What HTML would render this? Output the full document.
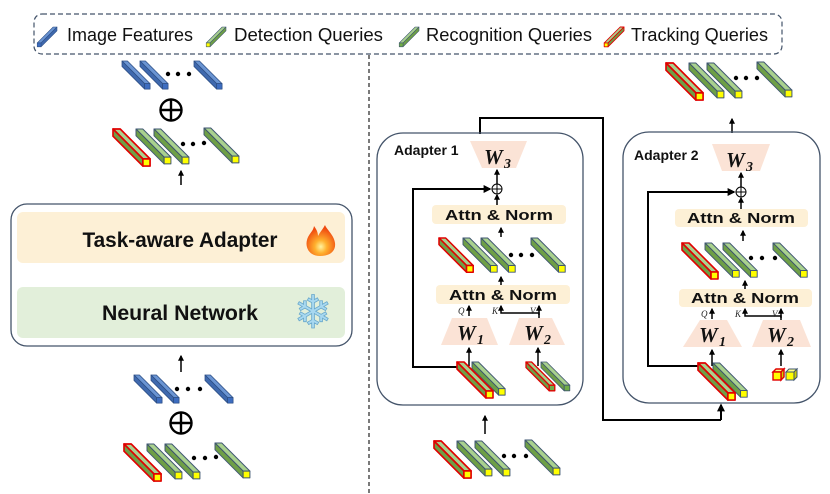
<!DOCTYPE html>
<html><head><meta charset="utf-8"><style>
html,body{margin:0;padding:0;background:#fff;}
svg{display:block;}
.lg{font-family:"Liberation Sans",sans-serif;font-size:18px;fill:#111;}
.b{font-family:"Liberation Sans",sans-serif;font-weight:bold;fill:#111;}
.w{font-family:"Liberation Serif",serif;font-weight:bold;font-style:italic;fill:#111;}
.s{font-family:"Liberation Serif",serif;font-style:italic;font-size:9px;fill:#222;}
</style></head><body>
<svg width="830" height="494" viewBox="0 0 830 494" xmlns="http://www.w3.org/2000/svg">
<defs>
<marker id="ah" viewBox="0 0 10 10" refX="8" refY="5" markerWidth="4" markerHeight="4" orient="auto"><path d="M0,0L10,5L0,10z" fill="#000"/></marker>
<g id="blue" stroke="#2d4f86" stroke-width="1" stroke-linejoin="round">
<polygon points="0,0 7,0 36,29 29,29" fill="#6a94d2"/>
<polygon points="0,0 29,29 29,36 0,7" fill="#3f69ae"/>
<rect x="29" y="29" width="7" height="7" fill="#3d6dc0"/>
</g>
<g id="green" stroke="#3e5570" stroke-width="1" stroke-linejoin="round">
<polygon points="0,0 7,0 36,29 29,29" fill="#a9d18e"/>
<polygon points="0,0 29,29 29,36 0,7" fill="#6e9f46"/>
<rect x="29" y="29" width="7" height="7" fill="#ffff00"/>
</g>
<g id="gcap" stroke="#3e5570" stroke-width="1" stroke-linejoin="round">
<polygon points="0,0 7,0 36,29 29,29" fill="#a9d18e"/>
<polygon points="0,0 29,29 29,36 0,7" fill="#6e9f46"/>
<rect x="29" y="29" width="7" height="7" fill="#70ad47"/>
</g>
<g id="red" stroke="#e00000" stroke-width="1.6" stroke-linejoin="round">
<polygon points="0,0 7,0 36,29 29,29" fill="#a9d18e"/>
<polygon points="0,0 29,29 29,36 0,7" fill="#6e9f46"/>
<rect x="29" y="29" width="7" height="7" fill="#ffff00"/>
</g>
<g id="redg" stroke="#e00000" stroke-width="1.6" stroke-linejoin="round">
<polygon points="0,0 7,0 36,29 29,29" fill="#a9d18e"/>
<polygon points="0,0 29,29 29,36 0,7" fill="#6e9f46"/>
<rect x="29" y="29" width="7" height="7" fill="#70ad47"/>
</g>
<g id="ycube" stroke="#3e5570" stroke-width="1"><polygon points="0,3 3,0 11,0 8,3" fill="#ffff80"/><polygon points="8,3 11,0 11,8 8,11" fill="#d0d000"/><rect x="0" y="3" width="8" height="8" fill="#ffff00"/></g>
<g id="rcube" stroke="#e00000" stroke-width="1.4"><polygon points="0,3 3,0 11,0 8,3" fill="#ffff80"/><polygon points="8,3 11,0 11,8 8,11" fill="#d0d000"/><rect x="0" y="3" width="8" height="8" fill="#ffff00"/></g>
<radialGradient id="fire" cx="0.5" cy="0.7" r="0.6"><stop offset="0" stop-color="#fff3a0"/><stop offset="0.35" stop-color="#ffb02e"/><stop offset="1" stop-color="#f04a10"/></radialGradient>
</defs>

<!-- legend -->
<rect x="34" y="14" width="748" height="40" rx="8" fill="none" stroke="#44546a" stroke-width="1.2" stroke-dasharray="5,3"/>
<use href="#blue" transform="translate(57,27) scale(-0.55,0.55)"/>
<text class="lg" x="67" y="41" textLength="126" lengthAdjust="spacingAndGlyphs">Image Features</text>
<use href="#green" transform="translate(226,27) scale(-0.55,0.55)"/>
<text class="lg" x="234" y="41" textLength="149" lengthAdjust="spacingAndGlyphs">Detection Queries</text>
<use href="#gcap" transform="translate(419,27) scale(-0.55,0.55)"/>
<text class="lg" x="426" y="41" textLength="166" lengthAdjust="spacingAndGlyphs">Recognition Queries</text>
<use href="#red" transform="translate(624,27) scale(-0.55,0.55)"/>
<text class="lg" x="631" y="41" textLength="137" lengthAdjust="spacingAndGlyphs">Tracking Queries</text>

<line x1="369" y1="55" x2="369" y2="494" stroke="#222" stroke-width="1.2" stroke-dasharray="4,3"/>

<!-- left top -->
<use href="#blue" transform="translate(122,61) scale(0.78)"/>
<use href="#blue" transform="translate(140,61) scale(0.78)"/>
<use href="#blue" transform="translate(194,61) scale(0.78)"/>
<g fill="#000"><circle cx="168" cy="74" r="2.2"/><circle cx="178" cy="74" r="2.2"/><circle cx="189" cy="74" r="2.2"/></g>
<circle cx="171" cy="110" r="10.5" fill="none" stroke="#000" stroke-width="2.4"/>
<line x1="160.5" y1="110" x2="181.5" y2="110" stroke="#000" stroke-width="2.4"/><line x1="171" y1="99.5" x2="171" y2="120.5" stroke="#000" stroke-width="2.4"/>
<use href="#red" transform="translate(113,129) scale(1.03)"/>
<use href="#green" transform="translate(136,129) scale(0.97)"/>
<use href="#green" transform="translate(154,129) scale(0.97)"/>
<use href="#green" transform="translate(204,128) scale(0.97)"/>
<g fill="#000"><circle cx="183" cy="144" r="2.2"/><circle cx="193" cy="144" r="2.2"/><circle cx="204" cy="143" r="2.2"/></g>
<line x1="181" y1="185" x2="181" y2="171" stroke="#000" stroke-width="1.5" marker-end="url(#ah)"/>

<!-- left box -->
<rect x="11" y="204" width="341" height="142" rx="16" fill="#fff" stroke="#44546a" stroke-width="1.3"/>
<rect x="17" y="212" width="328" height="51" rx="6" fill="#fdf0d6"/>
<text class="b" x="180" y="247" font-size="21" text-anchor="middle" textLength="195" lengthAdjust="spacingAndGlyphs">Task-aware Adapter</text>
<path d="M320,256 C309,256 305,247 307,240 C309,233 313,232 314,226 C317,230 318,233 318,236 C320,232 323,229 325,225 C327,230 334,235 335,243 C336,251 330,256 320,256z" fill="url(#fire)"/>
<rect x="17" y="287" width="328" height="51" rx="6" fill="#e2efda"/>
<text class="b" x="180" y="320" font-size="21" text-anchor="middle" textLength="156" lengthAdjust="spacingAndGlyphs">Neural Network</text>
<text x="313" y="328" font-family="DejaVu Sans,sans-serif" font-size="46" fill="#a8d8f0" stroke="#6aa9cc" stroke-width="0.8" text-anchor="middle">❄</text>

<line x1="181" y1="372" x2="181" y2="356" stroke="#000" stroke-width="1.5" marker-end="url(#ah)"/>
<use href="#blue" transform="translate(134,375) scale(0.78)"/>
<use href="#blue" transform="translate(151,375) scale(0.78)"/>
<use href="#blue" transform="translate(205,375) scale(0.78)"/>
<g fill="#000"><circle cx="177" cy="389" r="2.2"/><circle cx="188" cy="389" r="2.2"/><circle cx="200" cy="389" r="2.2"/></g>
<circle cx="181" cy="423" r="10.5" fill="none" stroke="#000" stroke-width="2.4"/>
<line x1="170.5" y1="423" x2="191.5" y2="423" stroke="#000" stroke-width="2.4"/><line x1="181" y1="412.5" x2="181" y2="433.5" stroke="#000" stroke-width="2.4"/>
<use href="#red" transform="translate(124,444) scale(1.03)"/>
<use href="#green" transform="translate(147,444) scale(0.97)"/>
<use href="#green" transform="translate(165,444) scale(0.97)"/>
<use href="#green" transform="translate(215,443) scale(0.97)"/>
<g fill="#000"><circle cx="194" cy="458" r="2.2"/><circle cx="205" cy="458" r="2.2"/><circle cx="216" cy="457" r="2.2"/></g>

<!-- right top output -->
<use href="#red" transform="translate(666,63) scale(1.03)"/>
<use href="#green" transform="translate(689,63) scale(0.97)"/>
<use href="#green" transform="translate(707,63) scale(0.97)"/>
<use href="#green" transform="translate(757,62) scale(0.97)"/>
<g fill="#000"><circle cx="736" cy="78" r="2.2"/><circle cx="746" cy="78" r="2.2"/><circle cx="757" cy="78" r="2.2"/></g>
<line x1="732" y1="133" x2="732" y2="119" stroke="#000" stroke-width="1.5" marker-end="url(#ah)"/>

<!-- connection line -->
<polyline points="480,134 480,118 603,118 603,420 721,420" fill="none" stroke="#000" stroke-width="2"/>
<line x1="721" y1="420" x2="721" y2="405" stroke="#000" stroke-width="2" marker-end="url(#ah)"/>

<!-- Adapter 1 -->
<rect x="377" y="133" width="206" height="272" rx="26" fill="none" stroke="#44546a" stroke-width="1.3"/>
<text class="b" x="394" y="155" font-size="14">Adapter 1</text>
<polygon points="470,141 527,141 516,168 482,168" fill="#fbe3d6"/>
<text class="w" x="484" y="164" font-size="21">W</text><text class="w" x="504" y="168" font-size="14">3</text>
<line x1="497" y1="184" x2="497" y2="170" stroke="#000" stroke-width="1.5" marker-end="url(#ah)"/>
<circle cx="497" cy="189" r="5" fill="none" stroke="#000" stroke-width="1"/><line x1="492" y1="189" x2="502" y2="189" stroke="#000"/><line x1="497" y1="184" x2="497" y2="194" stroke="#000"/>
<polyline points="457,367 413,367 413,189 490,189" fill="none" stroke="#000" stroke-width="2" marker-end="url(#ah)"/>
<line x1="497" y1="205" x2="497" y2="195" stroke="#000" stroke-width="1.5" marker-end="url(#ah)"/>
<rect x="432" y="205" width="134" height="19" rx="4" fill="#fdf0d6"/>
<text class="b" x="499" y="220" font-size="15" text-anchor="middle" textLength="108" lengthAdjust="spacingAndGlyphs">Attn &amp; Norm</text>
<line x1="501" y1="237" x2="501" y2="228" stroke="#000" stroke-width="1.5" marker-end="url(#ah)"/>
<use href="#red" transform="translate(439,238) scale(0.95)"/>
<use href="#green" transform="translate(463,238) scale(0.95)"/>
<use href="#green" transform="translate(481,238) scale(0.95)"/>
<use href="#green" transform="translate(531,238) scale(0.95)"/>
<g fill="#000"><circle cx="511" cy="255" r="2.2"/><circle cx="521" cy="255" r="2.2"/><circle cx="532" cy="255" r="2.2"/></g>
<line x1="501" y1="285" x2="501" y2="277" stroke="#000" stroke-width="1.5" marker-end="url(#ah)"/>
<rect x="436" y="285" width="134" height="19" rx="4" fill="#fdf0d6"/>
<text class="b" x="503" y="300" font-size="15" text-anchor="middle" textLength="108" lengthAdjust="spacingAndGlyphs">Attn &amp; Norm</text>
<line x1="469" y1="316" x2="469" y2="306" stroke="#000" stroke-width="1.5" marker-end="url(#ah)"/>
<text class="s" x="458" y="314">Q</text>
<polyline points="539,320 539,313 501,313 501,306" fill="none" stroke="#000" stroke-width="1.5" marker-end="url(#ah)"/>
<line x1="539" y1="315" x2="539" y2="306" stroke="#000" stroke-width="1.5" marker-end="url(#ah)"/>
<text class="s" x="492" y="314">K</text><text class="s" x="530" y="314">V</text>
<polygon points="452,318 487,318 498,345 441,345" fill="#fbe3d6"/>
<text class="w" x="457" y="340" font-size="21">W</text><text class="w" x="477" y="344" font-size="14">1</text>
<polygon points="519,318 552,318 565,345 509,345" fill="#fbe3d6"/>
<text class="w" x="524" y="340" font-size="21">W</text><text class="w" x="544" y="344" font-size="14">2</text>
<line x1="469" y1="366" x2="469" y2="348" stroke="#000" stroke-width="1.5" marker-end="url(#ah)"/>
<line x1="538" y1="366" x2="538" y2="348" stroke="#000" stroke-width="1.5" marker-end="url(#ah)"/>
<use href="#green" transform="translate(472,362) scale(0.92)"/>
<use href="#red" transform="translate(457,362) scale(1.0)"/>
<use href="#gcap" transform="translate(541,362) scale(0.8)"/>
<use href="#redg" transform="translate(526,362) scale(0.8)"/>
<line x1="485" y1="434" x2="485" y2="416" stroke="#000" stroke-width="1.5" marker-end="url(#ah)"/>
<use href="#red" transform="translate(434,441) scale(1.03)"/>
<use href="#green" transform="translate(457,441) scale(0.97)"/>
<use href="#green" transform="translate(475,441) scale(0.97)"/>
<use href="#green" transform="translate(525,440) scale(0.97)"/>
<g fill="#000"><circle cx="504" cy="456" r="2.2"/><circle cx="514" cy="456" r="2.2"/><circle cx="526" cy="456" r="2.2"/></g>

<!-- Adapter 2 -->
<rect x="623" y="132" width="197" height="271" rx="26" fill="none" stroke="#44546a" stroke-width="1.3"/>
<text class="b" x="634" y="160" font-size="14">Adapter 2</text>
<polygon points="712,144 770,144 760,171 722,171" fill="#fbe3d6"/>
<text class="w" x="726" y="167" font-size="21">W</text><text class="w" x="746" y="171" font-size="14">3</text>
<line x1="741" y1="187" x2="741" y2="173" stroke="#000" stroke-width="1.5" marker-end="url(#ah)"/>
<circle cx="741" cy="192" r="5" fill="none" stroke="#000" stroke-width="1"/><line x1="736" y1="192" x2="746" y2="192" stroke="#000"/><line x1="741" y1="187" x2="741" y2="197" stroke="#000"/>
<polyline points="698,366 648,366 648,192 734,192" fill="none" stroke="#000" stroke-width="2" marker-end="url(#ah)"/>
<line x1="741" y1="209" x2="741" y2="198" stroke="#000" stroke-width="1.5" marker-end="url(#ah)"/>
<rect x="675" y="209" width="133" height="18" rx="4" fill="#fdf0d6"/>
<text class="b" x="741" y="223" font-size="15" text-anchor="middle" textLength="108" lengthAdjust="spacingAndGlyphs">Attn &amp; Norm</text>
<line x1="743" y1="241" x2="743" y2="231" stroke="#000" stroke-width="1.5" marker-end="url(#ah)"/>
<use href="#red" transform="translate(682,243) scale(1.0)"/>
<use href="#green" transform="translate(705,243) scale(0.95)"/>
<use href="#green" transform="translate(723,243) scale(0.95)"/>
<use href="#green" transform="translate(773,243) scale(0.95)"/>
<g fill="#000"><circle cx="751" cy="258" r="2.2"/><circle cx="762" cy="258" r="2.2"/><circle cx="775" cy="258" r="2.2"/></g>
<line x1="745" y1="289" x2="745" y2="281" stroke="#000" stroke-width="1.5" marker-end="url(#ah)"/>
<rect x="679" y="289" width="133" height="18" rx="4" fill="#fdf0d6"/>
<text class="b" x="745" y="303" font-size="15" text-anchor="middle" textLength="108" lengthAdjust="spacingAndGlyphs">Attn &amp; Norm</text>
<line x1="712" y1="319" x2="712" y2="309" stroke="#000" stroke-width="1.5" marker-end="url(#ah)"/>
<text class="s" x="701" y="317">Q</text>
<polyline points="781,322 781,316 745,316 745,309" fill="none" stroke="#000" stroke-width="1.5" marker-end="url(#ah)"/>
<line x1="781" y1="318" x2="781" y2="309" stroke="#000" stroke-width="1.5" marker-end="url(#ah)"/>
<text class="s" x="735" y="317">K</text><text class="s" x="772" y="317">V</text>
<polygon points="700,320 727,320 742,347 683,347" fill="#fbe3d6"/>
<text class="w" x="699" y="342" font-size="21">W</text><text class="w" x="719" y="346" font-size="14">1</text>
<polygon points="763,320 800,320 811,347 752,347" fill="#fbe3d6"/>
<text class="w" x="767" y="342" font-size="21">W</text><text class="w" x="787" y="346" font-size="14">2</text>
<line x1="712" y1="366" x2="712" y2="350" stroke="#000" stroke-width="1.5" marker-end="url(#ah)"/>
<line x1="781" y1="366" x2="781" y2="350" stroke="#000" stroke-width="1.5" marker-end="url(#ah)"/>
<use href="#green" transform="translate(713,363) scale(0.95)"/>
<use href="#red" transform="translate(698,363) scale(1.03)"/>
<use href="#ycube" transform="translate(786,369)"/>
<use href="#rcube" transform="translate(773,369)"/>
</svg>
</body></html>
